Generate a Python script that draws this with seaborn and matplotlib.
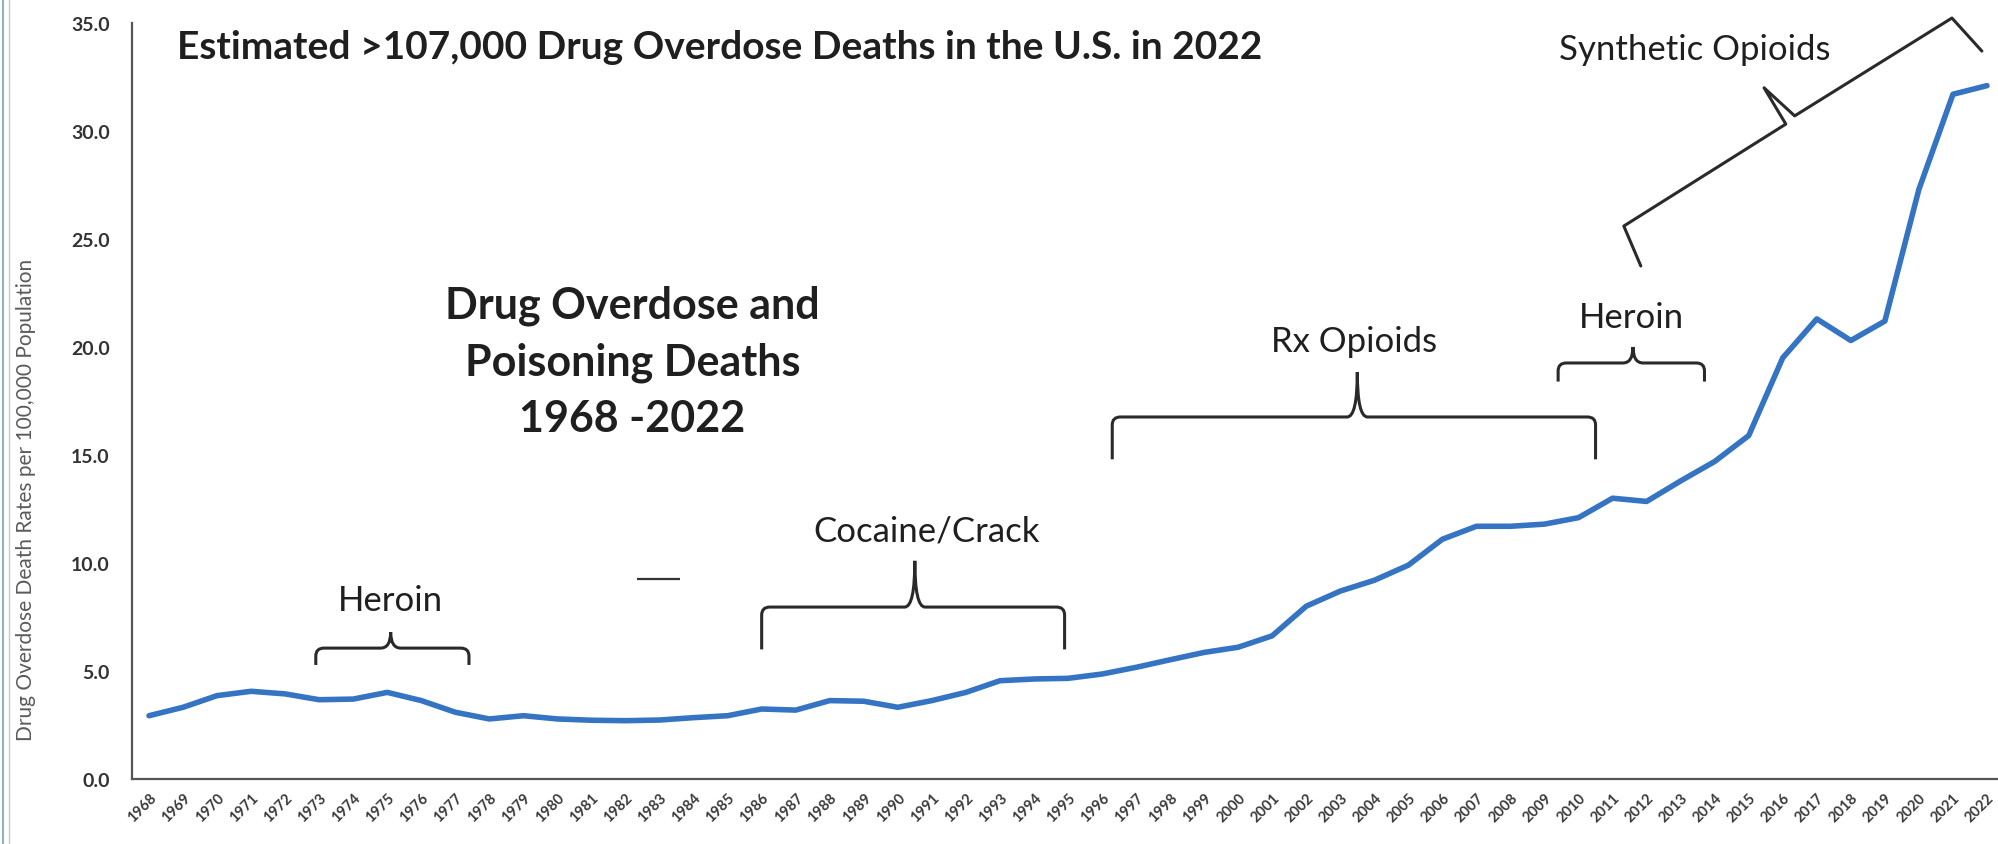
import matplotlib
matplotlib.use("Agg")
import matplotlib.pyplot as plt
from matplotlib.path import Path
from matplotlib.patches import PathPatch
from matplotlib.lines import Line2D
import seaborn as sns
import pandas as pd

# Age-adjusted drug overdose and poisoning death rates per 100,000, 1968-2022
years = list(range(1968, 2023))
rates = [
    2.93, 3.32, 3.86, 4.06, 3.94, 3.67, 3.70, 4.01, 3.63, 3.09,   # 1968-1977
    2.78, 2.93, 2.78, 2.72, 2.70, 2.73, 2.84, 2.93, 3.24, 3.19,   # 1978-1987
    3.63, 3.60, 3.32, 3.63, 4.01, 4.55, 4.63, 4.66, 4.86, 5.17,   # 1988-1997
    5.52, 5.86, 6.10, 6.63, 8.00, 8.70, 9.20, 9.90, 11.10, 11.70, # 1998-2007
    11.70, 11.80, 12.10, 13.00, 12.85, 13.80, 14.70, 15.90, 19.50, 21.30,  # 2008-2017
    20.30, 21.20, 27.30, 31.70, 32.10,                              # 2018-2022
]
y_ticks = [0, 5, 10, 15, 20, 25, 30, 35]

title_text = "Estimated >107,000 Drug Overdose Deaths in the U.S. in 2022"
block_lines = ["Drug Overdose and", "Poisoning Deaths", "1968 -2022"]
y_label = "Drug Overdose Death Rates per 100,000 Population"

# Era brackets: label, start year, end year, bracket level, hook end level, centre year, tip level, label position
eras = [
    ("Heroin",        1972.9, 1977.4,  6.06,  5.28, 1975.1,  6.80, (1975.1, 8.30)),
    ("Cocaine/Crack", 1986.0, 1994.9,  7.96,  6.00, 1990.5, 10.10, (1990.85, 11.50)),
    ("Rx Opioids",    1996.3, 2010.5, 16.76, 14.80, 2003.5, 18.84, (2003.4, 20.30)),
    ("Heroin",        2009.4, 2013.7, 19.26, 18.40, 2011.6, 20.00, (2011.55, 21.40)),
]
# Slanted bracket over the synthetic-opioid era (year, rate) vertices
synth_pts = [(2011.83, 23.75), (2011.33, 25.60), (2016.09, 30.32), (2015.45, 32.00),
             (2016.35, 30.70), (2020.97, 35.23), (2021.85, 33.70)]
synth_label = ("Synthetic Opioids", (2013.4, 33.80))

df = pd.DataFrame({"year": years, "rate": rates})

sns.set_style("white")
plt.rcParams["font.family"] = ["Lato", "DejaVu Sans"]

W, H = 1998, 845
fig = plt.figure(figsize=(W / 100, H / 100), dpi=100)
ax = fig.add_axes([132 / W, 65 / H, 1872 / W, 756 / H])

sns.lineplot(data=df, x="year", y="rate", ax=ax, color="#3474c2", linewidth=4.0,
             solid_joinstyle="round", solid_capstyle="round")

ax.set_xlim(1967.5, 2022.5)
ax.set_ylim(0, 35)
ax.set_xticks(years)
ax.set_xticklabels([str(y) for y in years], rotation=45, ha="right",
                   rotation_mode="anchor", fontsize=10.5, fontweight="bold", color="#3a3a3a")
ax.set_yticks(y_ticks)
ax.set_yticklabels([f"{v:.1f}" for v in y_ticks], fontsize=14, fontweight="bold", color="#333333")
ax.tick_params(axis="y", length=0, pad=16)
ax.tick_params(axis="x", length=0, pad=8)
ax.set_xlabel("")
ax.set_ylabel(y_label, fontsize=15, color="#5a5a5a")
ax.yaxis.set_label_coords(-0.0513, 0.37)

for side in ("top", "right"):
    ax.spines[side].set_visible(False)
for side in ("left", "bottom"):
    ax.spines[side].set_color("#555555")
    ax.spines[side].set_linewidth(1.6)

ink = "#1f1f1f"

# Headline and chart caption
ax.text(1968.82, 33.89, title_text, fontsize=28, fontweight="bold", color=ink,
        ha="left", va="center")
for txt, yv in zip(block_lines, [21.94, 19.30, 16.70]):
    ax.text(1982.2, yv, txt, fontsize=31, fontweight="bold", color=ink, ha="center", va="center")
ax.hlines(9.26, 1982.35, 1983.6, color="#333333", linewidth=1.6)


def brace(x0, x1, y, end_y, xc, tip_y):
    """Horizontal brace with rounded hooks and a pointed centre."""
    dx, dh, cx = 0.24, 0.37 * (1 if y > end_y else -1), 0.30
    verts = [(x0, end_y), (x0, y - dh), (x0, y), (x0 + dx, y),
             (xc - cx, y), (xc, y), (xc, tip_y),
             (xc, y), (xc + cx, y),
             (x1 - dx, y), (x1, y), (x1, y - dh), (x1, end_y)]
    codes = [Path.MOVETO, Path.LINETO, Path.CURVE3, Path.CURVE3,
             Path.LINETO, Path.CURVE3, Path.CURVE3,
             Path.CURVE3, Path.CURVE3,
             Path.LINETO, Path.CURVE3, Path.CURVE3, Path.LINETO]
    return Path(verts, codes)


for label, x0, x1, yb, ye, xc, yt, (lx, ly) in eras:
    ax.add_patch(PathPatch(brace(x0, x1, yb, ye, xc, yt), fill=False,
                           edgecolor="#2a2a2a", linewidth=2.2, clip_on=False))
    ax.text(lx, ly, label, fontsize=25, color=ink, ha="center", va="center")

sx, sy = zip(*synth_pts)
ax.add_line(Line2D(sx, sy, color="#2a2a2a", linewidth=2.2, clip_on=False,
                   solid_joinstyle="round"))
ax.text(synth_label[1][0], synth_label[1][1], synth_label[0], fontsize=25, color=ink,
        ha="center", va="center")

# thin frame at the left edge
fig.add_artist(Line2D([0.0015, 0.0015], [0, 1], transform=fig.transFigure,
                      color="#8fb0cf", linewidth=1.5))
fig.add_artist(Line2D([0.0045, 0.0045], [0, 1], transform=fig.transFigure,
                      color="#c8c8c8", linewidth=1.0))

fig.savefig("out.png", dpi=100)
